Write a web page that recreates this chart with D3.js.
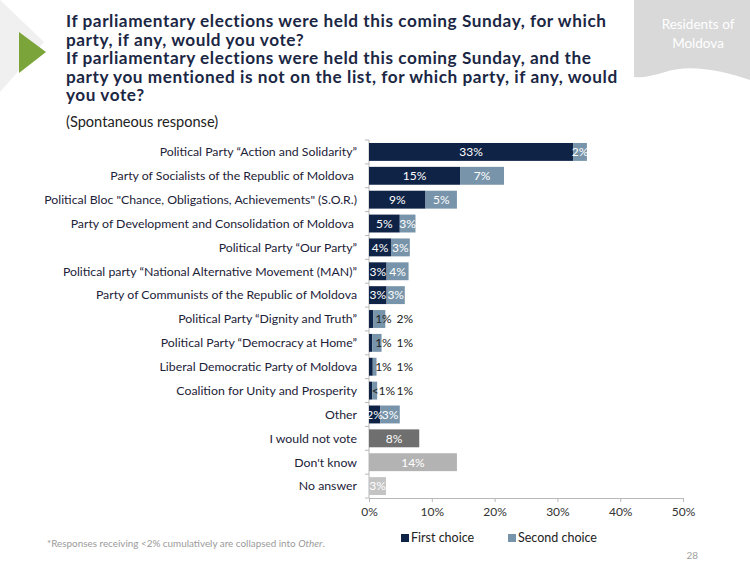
<!DOCTYPE html>
<html>
<head>
<meta charset="utf-8">
<script src="https://cdn.jsdelivr.net/npm/d3@7"></script>
<style>
  body { margin: 0; background: #fff; }
  svg { display: block; font-family: Lato, "DejaVu Sans", sans-serif; }
</style>
</head>
<body>
<div id="chart"></div>
<script>
// categories and values
let parties = [
  "Political Party \u201cAction and Solidarity\u201d",
  "Party of Socialists of the Republic of Moldova\u00a0",
  "Political Bloc \"Chance, Obligations, Achievements\" (S.O.R.)",
  "Party of Development and Consolidation of Moldova\u00a0",
  "Political Party \u201cOur Party\u201d",
  "Political party \u201cNational Alternative Movement (MAN)\u201d",
  "Party of Communists of the Republic of Moldova",
  "Political Party \u201cDignity and Truth\u201d",
  "Political Party \u201cDemocracy at Home\u201d",
  "Liberal Democratic Party of Moldova",
  "Coalition for Unity and Prosperity",
  "Other"
]
let firstChoice  = [32.5, 14.5, 9.0, 4.9, 3.5, 2.8, 2.8, 0.7, 0.5, 0.6, 0.5, 1.8]
let secondChoice = [2.2, 7.0, 5.0, 2.5, 3.0, 3.5, 2.9, 1.9, 1.5, 0.6, 0.8, 3.1]
let firstLabels  = ["33%","15%","9%","5%","4%","3%","3%","1%","1%","1%","<1%","2%"]
let secondLabels = ["2%","7%","5%","3%","3%","4%","3%","2%","1%","1%","1%","3%"]

let otherCats   = ["I would not vote", "Don't know", "No answer"]
let otherValues = [8.0, 14.0, 2.7]
let otherLabels = ["8%", "14%", "3%"]
let otherColors = ["#6f6f6f", "#b3b3b3", "#c4c4c4"]

let xTicks = [0, 10, 20, 30, 40, 50]
let legendNames = ["First choice", "Second choice"]
let colFirst = "#0f2347", colSecond = "#7794aa"

let titleLines = [
  "If parliamentary elections were held this coming Sunday, for which",
  "party, if any, would you vote?",
  "If parliamentary elections were held this coming Sunday, and the",
  "party you mentioned is not on the list, for which party, if any, would",
  "you vote?"
]

let W = 750, H = 564
let svg = d3.select("#chart").append("svg")
  .attr("width", W)
  .attr("height", H)

// decorations top-left
svg.append("polygon")
   .attr("points", "0,0 44,42 0,92")
   .style("fill", "#f0f0f0")
svg.append("polygon")
   .attr("points", "19,32 46,52 19,73")
   .style("fill", "#7ba53b")

// top-right box with a wavy bottom
svg.append("path")
   .attr("d", "M634,0 H750 V80 C720,70 690,64 665,72 C652,76 642,78 634,77 Z")
   .style("fill", "#d9d9d9")
let badge = svg.append("text").attr("text-anchor", "middle")
   .style("fill", "#fff").style("font-size", "13.5px")
badge.append("tspan").attr("x", 698).attr("y", 29).text("Residents of")
badge.append("tspan").attr("x", 698).attr("y", 48).text("Moldova")

// title, one text element with a tspan per line
let title = svg.append("text")
   .style("font-size", "17.2px")
   .style("letter-spacing", "0.56px")
   .style("font-weight", "bold")
   .style("fill", "#1b2744")
title.selectAll("tspan")
   .data(titleLines)
   .enter()
   .append("tspan")
   .attr("x", 66)
   .attr("y", (d, i) => 27 + i * 18.6)
   .text(d => d)

svg.append("text").attr("x", 66).attr("y", 127)
   .style("font-size", "14.6px").style("fill", "#222")
   .text("(Spontaneous response)")

// scales
let allCats = parties.concat(otherCats)
let x = d3.scaleLinear().domain([0, 50]).range([369, 683])
let y = d3.scaleBand().domain(allCats).range([140, 498])
          .paddingInner(0.25).paddingOuter(0.125)

// x axis
let xAxis = svg.append("g")
  .attr("transform", "translate(0,498)")
  .call(d3.axisBottom(x).tickValues(xTicks).tickSize(4).tickFormat(d => d + "%"))
xAxis.select(".domain").style("stroke", "#b8b8b8")
xAxis.selectAll(".tick line").style("stroke", "#b8b8b8")
xAxis.selectAll("text").style("font-size", "12px").style("fill", "#333")
     .style("font-family", "Lato, sans-serif").attr("dy", "0.95em")

// y axis line with ticks between categories
svg.append("line")
   .attr("x1", 369).attr("x2", 369)
   .attr("y1", 140).attr("y2", 498)
   .style("stroke", "#b8b8b8")
svg.selectAll(".ytick")
   .data(d3.range(allCats.length + 1))
   .enter()
   .append("line")
   .attr("x1", 365).attr("x2", 369)
   .attr("y1", i => 140 + i * y.step())
   .attr("y2", i => 140 + i * y.step())
   .style("stroke", "#b8b8b8")

// category labels
svg.selectAll(".cat")
   .data(allCats)
   .enter()
   .append("text")
   .attr("x", 357)
   .attr("y", d => y(d) + y.bandwidth() / 2)
   .attr("dy", "0.35em")
   .attr("text-anchor", "end")
   .style("font-size", "12.3px")
   .style("fill", "#1c2238")
   .style("white-space", "pre")
   .text(d => d)

// stacked bars for the parties
let rows = parties.map((p, i) => ({
  cat: p, a: firstChoice[i], b: secondChoice[i], la: firstLabels[i], lb: secondLabels[i]
}))

let g = svg.append("g")
g.selectAll(".first")
 .data(rows)
 .enter()
 .append("rect")
 .attr("x", x(0))
 .attr("y", d => y(d.cat))
 .attr("width", d => x(d.a) - x(0))
 .attr("height", y.bandwidth())
 .style("fill", colFirst)
g.selectAll(".second")
 .data(rows)
 .enter()
 .append("rect")
 .attr("x", d => x(d.a))
 .attr("y", d => y(d.cat))
 .attr("width", d => x(d.a + d.b) - x(d.a))
 .attr("height", y.bandwidth())
 .style("fill", colSecond)

// labels: centered in segments; tiny bars get their labels in two columns
let small = d => d.a + d.b < 3
g.selectAll(".la")
 .data(rows)
 .enter()
 .append("text")
 .attr("x", d => small(d) ? x(2.3) : (x(0) + x(d.a)) / 2)
 .attr("y", d => y(d.cat) + y.bandwidth() / 2)
 .attr("dy", "0.36em")
 .attr("text-anchor", "middle")
 .style("font-size", "12px")
 .style("fill", d => small(d) ? "#222" : "#fff")
 .text(d => d.la)
g.selectAll(".lb")
 .data(rows)
 .enter()
 .append("text")
 .attr("x", d => small(d) ? x(5.7) : (x(d.a) + x(d.a + d.b)) / 2)
 .attr("y", d => y(d.cat) + y.bandwidth() / 2)
 .attr("dy", "0.36em")
 .attr("text-anchor", "middle")
 .style("font-size", "12px")
 .style("fill", d => small(d) ? "#222" : "#fff")
 .text(d => d.lb)

// single bars
g.selectAll(".single")
 .data(otherCats)
 .enter()
 .append("rect")
 .attr("x", x(0))
 .attr("y", d => y(d))
 .attr("width", (d, i) => x(otherValues[i]) - x(0))
 .attr("height", y.bandwidth())
 .style("fill", (d, i) => otherColors[i])
g.selectAll(".slabel")
 .data(otherCats)
 .enter()
 .append("text")
 .attr("x", (d, i) => (x(0) + x(otherValues[i])) / 2)
 .attr("y", d => y(d) + y.bandwidth() / 2)
 .attr("dy", "0.36em")
 .attr("text-anchor", "middle")
 .style("font-size", "12px")
 .style("fill", "#fff")
 .text((d, i) => otherLabels[i])

// legend
let lg = svg.append("g").attr("transform", "translate(401,542)")
let items = lg.selectAll("g")
  .data(legendNames)
  .enter()
  .append("g")
  .attr("transform", (d, i) => "translate(" + (i * 107) + ",0)")
items.append("rect")
  .attr("x", 0).attr("y", -8).attr("width", 8).attr("height", 8)
  .style("fill", (d, i) => i == 0 ? colFirst : colSecond)
items.append("text")
  .attr("x", 10).attr("y", 0)
  .style("font-size", "12.5px").style("fill", "#222")
  .text(d => d)

// footnote and page number
let fn = svg.append("text").attr("x", 47).attr("y", 547)
  .style("font-size", "9.9px").style("fill", "#9a9a9a")
fn.append("tspan").text("*Responses receiving <2% cumulatively are collapsed into ")
fn.append("tspan").style("font-style", "italic").text("Other")
fn.append("tspan").text(".")

svg.append("text").attr("x", 698).attr("y", 559).attr("text-anchor", "end")
   .style("font-size", "10px").style("fill", "#a0a0a0").text("28")
</script>
</body>
</html>
